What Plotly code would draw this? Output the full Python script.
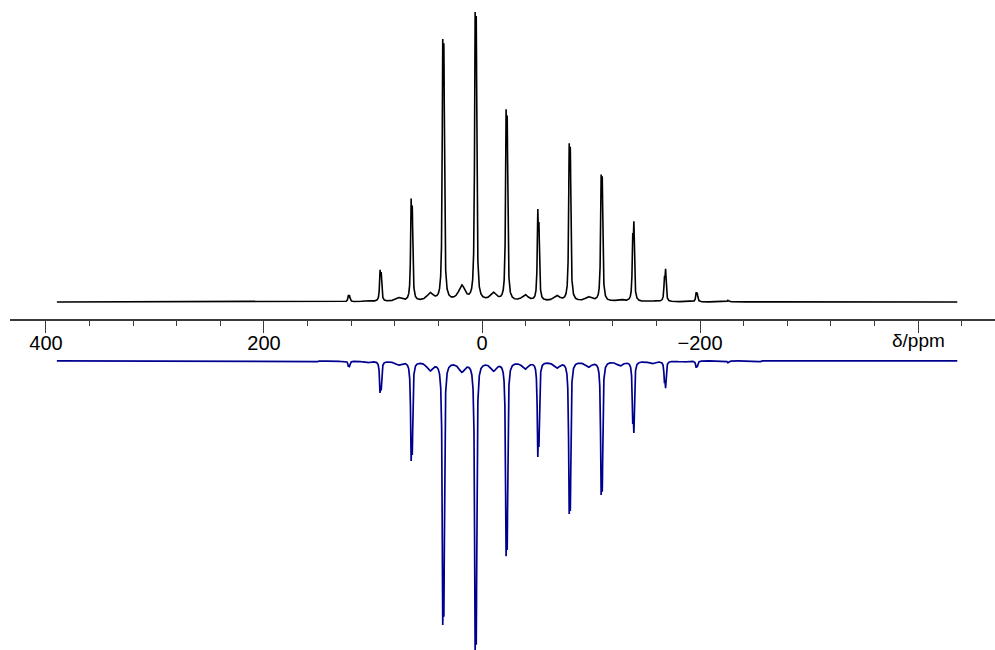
import numpy as np
import plotly.graph_objects as go

# ---- data ----
# centres of the sharp spinning-sideband doublets (ppm)
sharp_ppm = [151.0, 122.0, 93.0, 64.5, 35.5, 5.8, -22.6, -51.7, -80.5,
             -109.8, -138.8, -167.9, -197.0, -226.0, -255.0]
# experimental intensities of the high-ppm / low-ppm line of each doublet
exp_hi = [0.0, 2.2, 10.2, 33.0, 83.0, 91.5, 61.0, 30.2, 50.2, 40.2, 20.6, 7.6, 3.2, 0.5, 0.0]
exp_lo = [0.0, 1.8, 9.1, 29.6, 81.0, 89.5, 58.0, 23.8, 48.5, 39.4, 26.4, 11.0, 2.5, 0.4, 0.0]
# simulated intensities
sim_hi = [0.3, 1.9, 10.2, 32.0, 84.0, 92.0, 62.0, 31.0, 48.5, 42.5, 19.0, 6.5, 2.2, 0.6, 0.3]
sim_lo = [0.2, 1.6, 9.0, 29.0, 80.0, 89.0, 59.0, 26.0, 47.0, 41.0, 23.5, 9.0, 1.8, 0.5, 0.2]

# broad second-site sidebands (ppm)
broad_ppm = [163.9, 134.8, 105.8, 76.7, 47.7, 18.6, -10.5, -39.5, -68.6,
             -97.6, -126.7, -155.7, -184.8]
exp_broad = [0.0, 0.2, 0.5, 1.4, 3.1, 5.9, 3.1, 2.4, 2.1, 1.7, 0.8, 0.4, 0.1]
sim_broad = [0.15, 0.3, 0.7, 1.4, 3.4, 3.8, 3.4, 2.8, 2.4, 2.1, 1.7, 1.0, 0.5]

ppm_start, ppm_end = 390.0, -436.0
split = 1.1        # doublet splitting, ppm
hw_sharp = 0.55    # half-width, ppm
hw_broad = 3.5

ppm = np.linspace(ppm_start, ppm_end, 16521)


def lor(x0, amp, hw):
    return amp / (1.0 + ((ppm - x0) / hw) ** 2)


def spectrum(hi, lo, broad):
    y = np.zeros_like(ppm)
    for c, a, b in zip(sharp_ppm, hi, lo):
        y += lor(c + split / 2, a, hw_sharp) + lor(c - split / 2, b, hw_sharp)
    for c, a in zip(broad_ppm, broad):
        y += lor(c, a, hw_broad)
    return y


exp_y = spectrum(exp_hi, exp_lo, exp_broad)
sim_y = spectrum(sim_hi, sim_lo, sim_broad)
# scale so the tallest tip is ~100
exp_y *= 100.0 / exp_y.max()
sim_y *= 100.0 / sim_y.max()
sim_offset = -20.3

fig = go.Figure()
fig.add_trace(go.Scatter(x=ppm, y=exp_y, mode="lines",
                         line=dict(color="black", width=1.6), hoverinfo="skip"))
fig.add_trace(go.Scatter(x=ppm, y=sim_offset - sim_y, mode="lines",
                         line=dict(color="#00008f", width=1.7), hoverinfo="skip"))

tick_vals = [400, 200, 0, -200, -400]
tick_text = ["400", "200", "0", "\u2212200", ""]

fig.update_layout(
    width=995, height=650,
    margin=dict(l=10, r=0, t=0, b=0),
    paper_bgcolor="white", plot_bgcolor="white",
    showlegend=False,
    font=dict(family="Liberation Sans, Arial, sans-serif", size=20, color="black"),
    xaxis=dict(
        range=[433.0, -470.6], anchor="free", position=0.5077,
        showline=True, linecolor="#3a3a3a", linewidth=1.5,
        showgrid=False, zeroline=False,
        ticks="outside", ticklen=12, tickwidth=1.2, tickcolor="#3a3a3a",
        tickmode="array", tickvals=tick_vals, ticktext=tick_text,
        tickfont=dict(size=20, color="black"), ticklabelstandoff=-7,
        minor=dict(dtick=40, tick0=0, ticks="outside", ticklen=5,
                   tickwidth=1.2, tickcolor="#3a3a3a", showgrid=False),
    ),
    yaxis=dict(range=[-120.0, 104.1], visible=False),
    annotations=[dict(x=-400, y=0.4754, xref="x", yref="paper",
                      text="\u03b4/ppm", showarrow=False,
                      font=dict(size=19, color="black"),
                      xanchor="center", yanchor="middle")],
)

fig.write_html("out.html")
